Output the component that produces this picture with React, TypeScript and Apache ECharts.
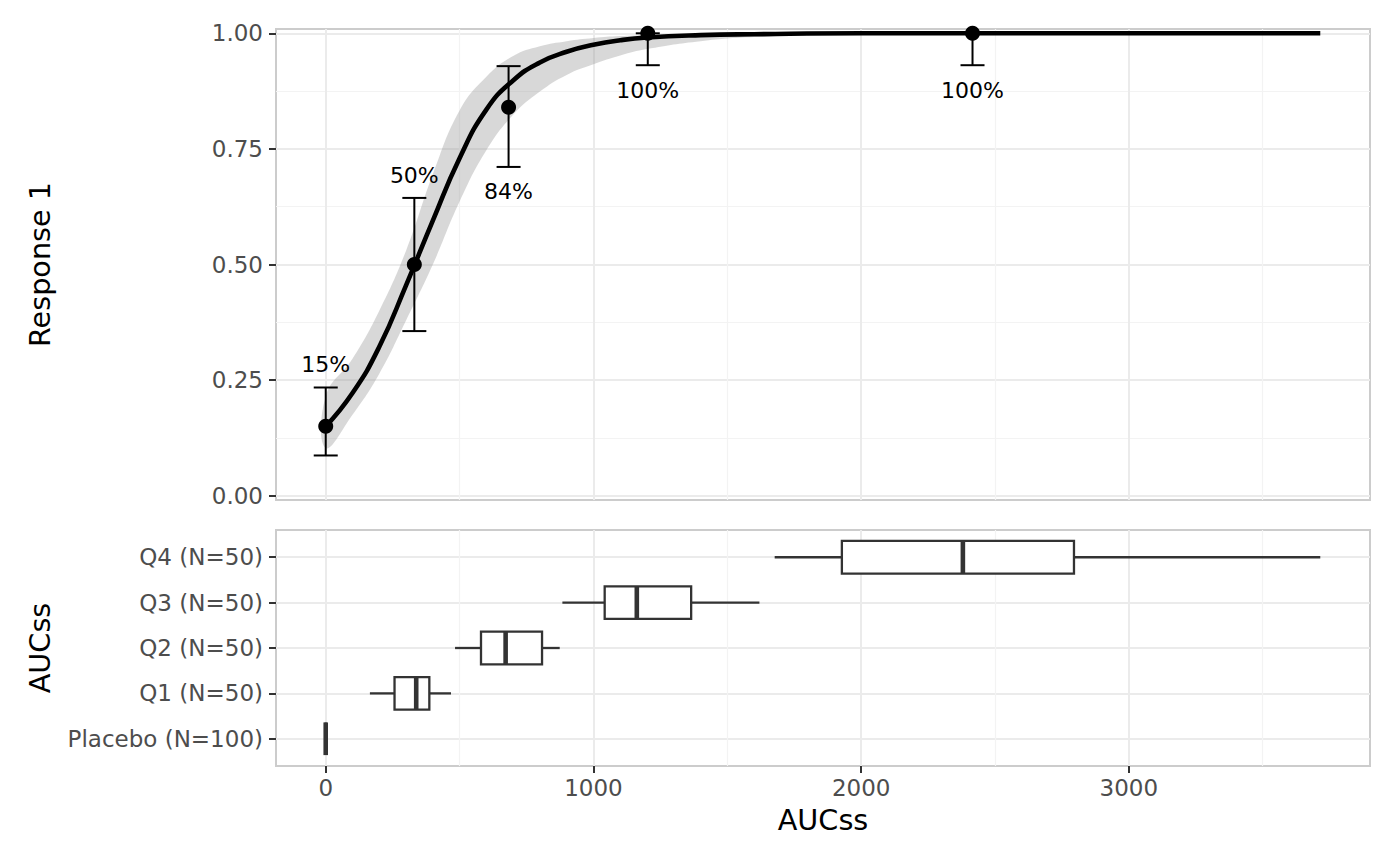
import React, { useEffect, useRef } from "react";
import * as echarts from "echarts";

// ---- Data ----
const curveX = [0, 100, 200, 300, 400, 500, 600, 700, 800, 900, 1000, 1100, 1200, 1400, 1600, 2000, 2500, 3000, 3715];
const curveY = [0.15, 0.222, 0.322, 0.455, 0.595, 0.73, 0.835, 0.898, 0.937, 0.96, 0.975, 0.985, 0.991, 0.996, 0.998, 1.0, 1.0, 1.0, 1.0];
const ribbonLower = [0.103, 0.175, 0.264, 0.379, 0.5, 0.636, 0.747, 0.824, 0.874, 0.91, 0.933, 0.952, 0.966, 0.983, 0.992, 0.998, 1.0, 1.0, 1.0];
const ribbonUpper = [0.215, 0.296, 0.4, 0.53, 0.695, 0.833, 0.906, 0.951, 0.972, 0.983, 0.99, 0.994, 0.996, 0.998, 0.999, 1.0, 1.0, 1.0, 1.0];

const obsX = [0, 331, 683, 1203, 2416];
const obsY = [0.15, 0.5, 0.84, 1.0, 1.0];
const obsLo = [0.087, 0.356, 0.711, 0.931, 0.931];
const obsHi = [0.234, 0.644, 0.929, 1.0, 1.0];
const obsLabel = ["15%", "50%", "84%", "100%", "100%"];

const boxCats = ["Placebo (N=100)", "Q1 (N=50)", "Q2 (N=50)", "Q3 (N=50)", "Q4 (N=50)"];
const boxLow = [0, 165, 483, 884, 1677];
const boxQ1 = [0, 257, 580, 1042, 1928];
const boxMed = [0, 338, 672, 1162, 2380];
const boxQ3 = [0, 387, 808, 1365, 2795];
const boxHigh = [0, 468, 874, 1620, 3715];

const xMajor = [0, 1000, 2000, 3000];
const xMinor = [500, 1500, 2500, 3500];
const yMajor = [0, 0.25, 0.5, 0.75, 1.0];
const yMinor = [0.125, 0.375, 0.625, 0.875];
const catTicks = [0, 1, 2, 3, 4];

const X_MIN = -185.75;
const X_MAX = 3900.75;
const Y_MIN = -0.0093;
const Y_MAX = 1.0093;

const FONT = "DejaVu Sans";
const majorLine = { color: "#ebebeb", width: 2 };
const minorLine = { color: "#f3f3f3", width: 1.2 };
const tickStyle = { color: "#333333", width: 2 };

function hiddenAxis(gridIndex: number, min: number, max: number, values: number[], style: any) {
  return {
    type: "value",
    gridIndex,
    min,
    max,
    axisLine: { show: false, onZero: false },
    axisTick: { show: false, customValues: values },
    axisLabel: { show: false, customValues: values },
    splitLine: { show: true, lineStyle: style },
  };
}

function buildOption() {
  const curve = curveY.map((y, i) => [curveX[i], y]);
  const points = obsY.map((y, i) => [obsX[i], y]);
  const errData = obsX.map((x, i) => [x, obsLo[i], obsHi[i]]);
  const boxData = boxCats.map((_, i) => [i, boxLow[i], boxQ1[i], boxMed[i], boxQ3[i], boxHigh[i]]);
  const ribbonData = curveX.map((x, i) => [x, ribbonLower[i], ribbonUpper[i]]);

  return {
    animation: false,
    backgroundColor: "#ffffff",
    textStyle: { fontFamily: FONT },
    grid: [
      { left: 276, top: 29, width: 1094, height: 471, show: true, borderColor: "#cccccc", borderWidth: 2, backgroundColor: "transparent", containLabel: false, outerBoundsMode: "none" },
      { left: 276, top: 530, width: 1094, height: 236, show: true, borderColor: "#cccccc", borderWidth: 2, backgroundColor: "transparent", containLabel: false, outerBoundsMode: "none" },
    ],
    xAxis: [
      {
        type: "value",
        gridIndex: 0,
        min: X_MIN,
        max: X_MAX,
        axisLine: { show: false, onZero: false },
        axisTick: { show: false, customValues: xMajor },
        axisLabel: { show: false, customValues: xMajor },
        splitLine: { show: true, lineStyle: majorLine },
      },
      hiddenAxis(0, X_MIN, X_MAX, xMinor, minorLine),
      {
        type: "value",
        gridIndex: 1,
        min: X_MIN,
        max: X_MAX,
        position: "bottom",
        axisLine: { show: false, onZero: false },
        axisTick: { show: true, length: 7, lineStyle: tickStyle, customValues: xMajor },
        axisLabel: {
          show: true,
          customValues: xMajor,
          color: "#4d4d4d",
          fontSize: 23,
          fontFamily: FONT,
          margin: 10,
          formatter: (v: number) => String(Math.round(v)),
        },
        splitLine: { show: true, lineStyle: majorLine },
        name: "AUCss",
        nameLocation: "middle",
        nameGap: 39,
        nameTextStyle: { color: "#000000", fontSize: 28.7, fontFamily: FONT },
      },
      hiddenAxis(1, X_MIN, X_MAX, xMinor, minorLine),
    ],
    yAxis: [
      {
        type: "value",
        gridIndex: 0,
        min: Y_MIN,
        max: Y_MAX,
        position: "left",
        axisLine: { show: false, onZero: false },
        axisTick: { show: true, length: 7, lineStyle: tickStyle, customValues: yMajor },
        axisLabel: {
          show: true,
          customValues: yMajor,
          color: "#4d4d4d",
          fontSize: 23,
          fontFamily: FONT,
          margin: 13,
          formatter: (v: number) => v.toFixed(2),
        },
        splitLine: { show: true, lineStyle: majorLine },
        name: "Response 1",
        nameLocation: "middle",
        nameGap: 222,
        nameRotate: 90,
        nameTextStyle: { color: "#000000", fontSize: 28.7, fontFamily: FONT },
      },
      hiddenAxis(0, Y_MIN, Y_MAX, yMinor, minorLine),
      {
        type: "value",
        gridIndex: 1,
        min: -0.6,
        max: 4.6,
        position: "left",
        axisLine: { show: false, onZero: false },
        axisTick: { show: true, length: 7, lineStyle: tickStyle, customValues: catTicks },
        axisLabel: {
          show: true,
          customValues: catTicks,
          color: "#4d4d4d",
          fontSize: 23,
          fontFamily: FONT,
          margin: 13,
          formatter: (v: number) => {
            const i = Math.round(v);
            return Math.abs(v - i) < 1e-6 && boxCats[i] ? boxCats[i] : "";
          },
        },
        splitLine: { show: true, lineStyle: majorLine },
        name: "AUCss",
        nameLocation: "middle",
        nameGap: 222,
        nameRotate: 90,
        nameTextStyle: { color: "#000000", fontSize: 28.7, fontFamily: FONT },
      },
    ],
    series: [
      {
        // confidence ribbon: one polygon built from all ribbon rows
        type: "custom",
        xAxisIndex: 0,
        yAxisIndex: 0,
        data: ribbonData,
        encode: { x: 0, y: [1, 2] },
        z: 1,
        silent: true,
        renderItem: (params: any, api: any) => {
          if (params.dataIndex !== 0) return null;
          const upper: number[][] = [];
          const lower: number[][] = [];
          for (let i = 0; i < ribbonData.length; i++) {
            upper.push(api.coord([ribbonData[i][0], ribbonData[i][2]]));
            lower.push(api.coord([ribbonData[i][0], ribbonData[i][1]]));
          }
          lower.reverse();
          const pts = upper.concat(lower.slice(1));
          return {
            type: "polygon",
            shape: { points: pts, smooth: 0.45 },
            style: { fill: "rgba(153,153,153,0.38)", stroke: null },
          };
        },
      },
      {
        type: "custom",
        xAxisIndex: 0,
        yAxisIndex: 0,
        data: errData,
        encode: { x: 0, y: [1, 2] },
        z: 3,
        renderItem: (params: any, api: any) => {
          const idx = params.dataIndex;
          const x = api.value(0);
          const pLo = api.coord([x, api.value(1)]);
          const pHi = api.coord([x, api.value(2)]);
          const cap = 12;
          const st = { stroke: "#000000", lineWidth: 2, fill: null };
          const above = obsY[idx] <= 0.5;
          return {
            type: "group",
            children: [
              { type: "line", shape: { x1: pLo[0], y1: pLo[1], x2: pHi[0], y2: pHi[1] }, style: st },
              { type: "line", shape: { x1: pLo[0] - cap, y1: pLo[1], x2: pLo[0] + cap, y2: pLo[1] }, style: st },
              { type: "line", shape: { x1: pHi[0] - cap, y1: pHi[1], x2: pHi[0] + cap, y2: pHi[1] }, style: st },
              {
                type: "text",
                style: {
                  text: obsLabel[idx],
                  x: pHi[0],
                  y: above ? pHi[1] - 22.5 : pLo[1] + 25,
                  align: "center",
                  verticalAlign: "middle",
                  fontSize: 22,
                  fontFamily: FONT,
                  fill: "#000000",
                },
              },
            ],
          };
        },
      },
      {
        type: "line",
        xAxisIndex: 0,
        yAxisIndex: 0,
        data: curve,
        smooth: 0.5,
        symbol: "none",
        lineStyle: { color: "#000000", width: 4.6 },
        z: 4,
        silent: true,
      },
      {
        type: "scatter",
        xAxisIndex: 0,
        yAxisIndex: 0,
        data: points,
        symbol: "circle",
        symbolSize: 15,
        itemStyle: { color: "#000000", opacity: 1 },
        z: 5,
      },
      {
        type: "custom",
        xAxisIndex: 2,
        yAxisIndex: 2,
        data: boxData,
        encode: { x: [1, 2, 3, 4, 5], y: 0 },
        z: 3,
        renderItem: (params: any, api: any) => {
          const c = api.value(0);
          const p = [1, 2, 3, 4, 5].map((d) => api.coord([api.value(d), c]));
          const h = api.size([0, 0.72])[1];
          const y = p[0][1];
          const st = { stroke: "#333333", lineWidth: 2.3, fill: null };
          return {
            type: "group",
            children: [
              { type: "line", shape: { x1: p[0][0], y1: y, x2: p[1][0], y2: y }, style: st },
              { type: "line", shape: { x1: p[3][0], y1: y, x2: p[4][0], y2: y }, style: st },
              {
                type: "rect",
                shape: { x: p[1][0], y: y - h / 2, width: p[3][0] - p[1][0], height: h },
                style: { fill: "#ffffff", stroke: "#333333", lineWidth: 2.3 },
              },
              {
                type: "line",
                shape: { x1: p[2][0], y1: y - h / 2, x2: p[2][0], y2: y + h / 2 },
                style: { stroke: "#333333", lineWidth: 4.6 },
              },
            ],
          };
        },
      },
    ],
  };
}

export default function App() {
  const ref = useRef<HTMLDivElement>(null);
  useEffect(() => {
    if (!ref.current) return;
    const chart = echarts.init(ref.current, null, { renderer: "svg" });
    chart.setOption(buildOption() as any);
    return () => {
      chart.dispose();
    };
  }, []);
  return (
    <div
      ref={ref}
      style={{ position: "fixed", left: 0, top: 0, width: 1400, height: 865, background: "#ffffff" }}
    />
  );
}
